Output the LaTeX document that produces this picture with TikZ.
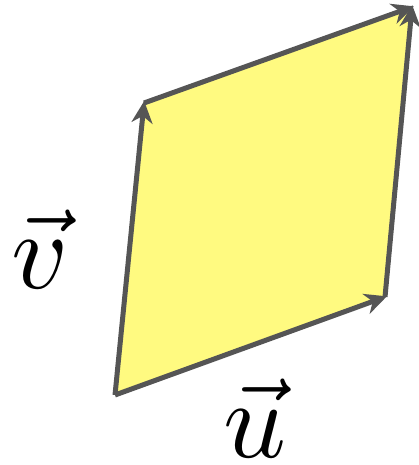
\documentclass[tikz,border=0pt]{standalone}
\usepackage{graphicx}
\usetikzlibrary{arrows.meta}
\definecolor{edgegray}{HTML}{555555}
\definecolor{fillyellow}{HTML}{FFFA80}
\begin{document}
\begin{tikzpicture}[x=1pt,y=-1pt,
  vec/.style={draw=edgegray,line width=5pt,-{Stealth[length=22pt,width=21pt,inset=7pt]},shorten >=-2pt},
  lbl/.style={inner sep=0pt}]
\useasboundingbox (0,0) rectangle (419,465);
\coordinate (o) at (115,395);
\coordinate (u) at (385,297);
\coordinate (v) at (144,103);
\coordinate (w) at (412,7);
\fill[fillyellow] (o) -- (u) -- (w) -- (v) -- cycle;
\draw[vec] (o) -- (u);
\draw[vec] (o) -- (v);
\draw[vec] (v) -- (w);
\draw[vec] (u) -- (w);
\node[lbl] (lv) at (40,249) {\scalebox{11}{$\vec{v}$}};
\node[lbl] (lu) at (255,418) {\scalebox{11}{$\vec{u}$}};
\end{tikzpicture}
\end{document}
